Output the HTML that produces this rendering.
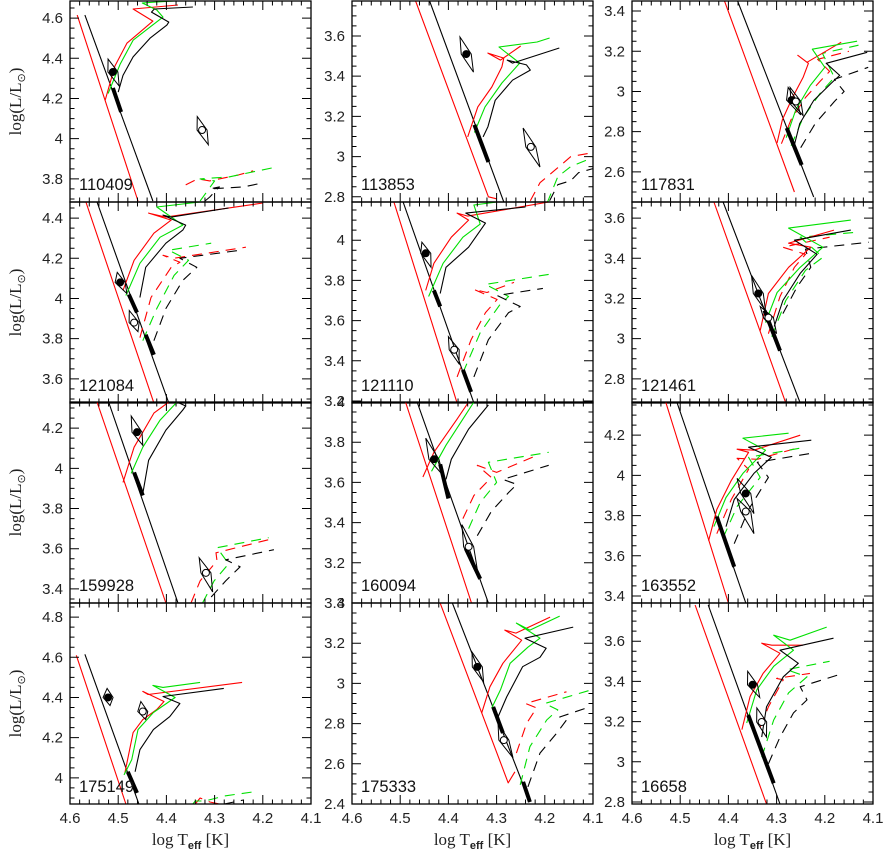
<!DOCTYPE html>
<html><head><meta charset="utf-8"><title>HR diagrams</title>
<style>
html,body{margin:0;padding:0;background:#fff;}
svg{display:block;font-family:"Liberation Sans",sans-serif;}
</style></head>
<body>
<svg id="chart" width="885" height="853" viewBox="0 0 885 853" xmlns="http://www.w3.org/2000/svg"></svg>
<script>
// ---- data ----
const starIds = ['110409','113853','117831','121084','121110','121461','159928','160094','163552','175149','175333','16658'];
const yMaxes = [4.685,3.774,3.45,4.48,4.19,3.68,4.33,4.0,4.365,4.87,3.4,3.79];
const xTickLabels = ['4.6','4.5','4.4','4.3','4.2','4.1'];
const xTickValues = [4.6,4.5,4.4,4.3,4.2,4.1];

const redZams = [
 [[4.585,4.615],[4.459,3.69]],
 [[4.468,3.774],[4.317,2.80],[4.30,2.79]],
 [[4.408,3.45],[4.263,2.50]],
 [[4.567,4.48],[4.426,3.48]],
 [[4.513,4.19],[4.382,3.19]],
 [[4.43,3.68],[4.281,2.68]],
 [[4.544,4.33],[4.401,3.33]],
 [[4.489,4.0],[4.352,3.0]],
 [[4.53,4.365],[4.4,3.365]],
 [[4.587,4.61],[4.484,3.87]],
 [[4.425,3.45],[4.276,2.505],[4.262,2.56]],
 [[4.469,3.78],[4.321,2.79]]
];
const blackZams = [
 [[4.569,4.615],[4.428,3.69]],
 [[4.439,3.774],[4.285,2.774]],
 [[4.381,3.45],[4.223,2.475]],
 [[4.544,4.48],[4.395,3.48]],
 [[4.494,4.19],[4.347,3.19]],
 [[4.411,3.68],[4.251,2.68]],
 [[4.52,4.33],[4.376,3.33]],
 [[4.465,4.0],[4.317,3.0]],
 [[4.507,4.365],[4.364,3.365]],
 [[4.569,4.615],[4.457,3.87]],
 [[4.40,3.45],[4.231,2.41]],
 [[4.442,3.78],[4.293,2.79]]
];
const redTrack = [
 [[4.527,4.192],[4.507,4.36],[4.482,4.475],[4.455,4.53],[4.428,4.585],[4.469,4.645],[4.376,4.665]],
 [[4.36,3.098],[4.339,3.247],[4.31,3.346],[4.289,3.446],[4.285,3.49],[4.318,3.515],[4.292,3.48],[4.25,3.55]],
 [[4.299,2.744],[4.288,2.86],[4.266,2.975],[4.245,3.07],[4.234,3.14],[4.256,3.18],[4.237,3.145],[4.166,3.245]],
 [[4.49,4.04],[4.467,4.19],[4.426,4.325],[4.39,4.39],[4.437,4.425],[4.401,4.405],[4.2,4.475]],
 [[4.447,3.75],[4.43,3.885],[4.394,4.015],[4.358,4.1],[4.382,4.135],[4.36,4.12],[4.192,4.19]],
 [[4.334,3.04],[4.317,3.225],[4.275,3.355],[4.229,3.455],[4.275,3.475],[4.181,3.54]],
 [[4.49,3.93],[4.467,4.105],[4.426,4.275],[4.395,4.33]],
 [[4.453,3.627],[4.43,3.75],[4.382,3.915],[4.358,4.0]],
 [[4.441,3.675],[4.424,3.83],[4.394,3.975],[4.358,4.115],[4.382,4.13],[4.347,4.125],[4.251,4.2]],
 [[4.486,4.025],[4.469,4.225],[4.449,4.29],[4.42,4.34],[4.405,4.38],[4.449,4.43],[4.438,4.415],[4.243,4.475]],
 [[4.331,2.853],[4.314,2.983],[4.287,3.1],[4.248,3.215],[4.283,3.265],[4.26,3.25],[4.189,3.33]],
 [[4.372,3.16],[4.355,3.325],[4.328,3.44],[4.293,3.54],[4.331,3.59],[4.31,3.58],[4.245,3.58]]
];
const greenTrack = [
 [[4.521,4.225],[4.496,4.37],[4.469,4.49],[4.434,4.555],[4.407,4.605],[4.42,4.64],[4.45,4.675],[4.42,4.68],[4.382,4.685]],
 [[4.346,3.12],[4.324,3.247],[4.289,3.366],[4.252,3.465],[4.295,3.545],[4.216,3.57],[4.19,3.59]],
 [[4.28,2.77],[4.26,2.91],[4.23,3.03],[4.2,3.12],[4.226,3.21],[4.133,3.25]],
 [[4.484,4.015],[4.455,4.175],[4.413,4.305],[4.366,4.365],[4.42,4.455],[4.33,4.48]],
 [[4.441,3.72],[4.411,3.885],[4.37,4.015],[4.334,4.08],[4.347,4.175],[4.299,4.19]],
 [[4.323,3.08],[4.299,3.23],[4.251,3.355],[4.204,3.455],[4.275,3.55],[4.146,3.59]],
 [[4.473,3.975],[4.449,4.105],[4.413,4.24],[4.378,4.33]],
 [[4.435,3.655],[4.405,3.785],[4.37,3.915],[4.347,4.0]],
 [[4.43,3.745],[4.405,3.89],[4.37,4.01],[4.323,4.125],[4.37,4.185],[4.275,4.21]],
 [[4.488,4.015],[4.472,4.09],[4.459,4.24],[4.427,4.325],[4.382,4.4],[4.428,4.46],[4.407,4.45],[4.33,4.475]],
 [[4.31,2.878],[4.292,2.968],[4.272,3.1],[4.235,3.18],[4.21,3.225],[4.259,3.3],[4.231,3.265],[4.169,3.335]],
 [[4.362,3.193],[4.341,3.358],[4.306,3.475],[4.265,3.555],[4.306,3.63],[4.272,3.605],[4.196,3.67]]
];
const blackTrack = [
 [[4.5,4.232],[4.49,4.315],[4.469,4.407],[4.434,4.5],[4.399,4.565],[4.395,4.58],[4.431,4.63],[4.425,4.645],[4.345,4.655]],
 [[4.328,3.098],[4.318,3.148],[4.303,3.28],[4.267,3.38],[4.23,3.43],[4.238,3.456],[4.278,3.48],[4.267,3.465],[4.17,3.54]],
 [[4.263,2.734],[4.252,2.84],[4.223,2.955],[4.187,3.04],[4.169,3.08],[4.197,3.14],[4.112,3.195]],
 [[4.455,4.005],[4.443,4.155],[4.401,4.275],[4.366,4.34],[4.36,4.365],[4.407,4.415],[4.39,4.405],[4.271,4.45]],
 [[4.417,3.735],[4.405,3.865],[4.358,3.965],[4.323,4.085],[4.364,4.135],[4.24,4.165]],
 [[4.305,3.06],[4.287,3.19],[4.251,3.325],[4.216,3.42],[4.263,3.49],[4.146,3.54]],
 [[4.449,3.875],[4.437,4.04],[4.401,4.19],[4.366,4.29],[4.36,4.31],[4.378,4.33]],
 [[4.405,3.615],[4.394,3.715],[4.358,3.865],[4.317,3.985]],
 [[4.405,3.745],[4.388,3.88],[4.347,4.01],[4.311,4.09],[4.358,4.14],[4.228,4.175]],
 [[4.465,4.03],[4.455,4.14],[4.427,4.24],[4.393,4.305],[4.372,4.37],[4.407,4.405],[4.281,4.445]],
 [[4.297,2.833],[4.279,2.933],[4.246,3.083],[4.21,3.13],[4.197,3.175],[4.241,3.225],[4.141,3.28]],
 [[4.331,3.123],[4.321,3.273],[4.286,3.423],[4.255,3.49],[4.293,3.555],[4.182,3.615]]
];
const redDash = [
 [[4.36,3.77],[4.335,3.80],[4.31,3.79],[4.25,3.82],[4.22,3.84]],
 [[4.23,2.78],[4.21,2.87],[4.18,2.93],[4.146,3.0],[4.1,3.02]],
 [[4.29,2.74],[4.27,2.86],[4.24,2.97],[4.21,3.05],[4.19,3.10],[4.215,3.16],[4.15,3.2]],
 [[4.455,3.805],[4.432,4.005],[4.39,4.155],[4.372,4.18],[4.407,4.215],[4.385,4.2],[4.235,4.255]],
 [[4.382,3.32],[4.353,3.505],[4.323,3.64],[4.299,3.705],[4.347,3.755],[4.32,3.74],[4.264,3.79]],
 [[4.317,3.025],[4.293,3.21],[4.263,3.355],[4.24,3.42],[4.287,3.455],[4.19,3.505]],
 [[4.349,3.33],[4.33,3.44],[4.295,3.54],[4.297,3.58],[4.188,3.645]],
 [[4.37,3.42],[4.347,3.535],[4.311,3.625],[4.34,3.685],[4.3,3.65],[4.216,3.735]],
 [[4.424,3.71],[4.394,3.88],[4.358,4.03],[4.382,4.085],[4.34,4.08],[4.251,4.14]],
 [[4.34,3.87],[4.33,3.90],[4.31,3.88],[4.29,3.87]],
 [[4.259,2.653],[4.238,2.8],[4.217,2.878],[4.24,2.9],[4.155,2.958]],
 [[4.334,3.173],[4.317,3.273],[4.286,3.408],[4.3,3.415],[4.231,3.44]]
];
const greenDash = [
 [[4.33,3.69],[4.315,3.74],[4.30,3.79],[4.33,3.80],[4.27,3.81],[4.17,3.86]],
 [[4.195,2.77],[4.173,2.9],[4.146,2.95],[4.096,3.0]],
 [[4.27,2.73],[4.245,2.87],[4.21,2.99],[4.18,3.07],[4.205,3.19],[4.13,3.23]],
 [[4.449,3.79],[4.42,3.95],[4.384,4.115],[4.354,4.19],[4.395,4.24],[4.307,4.275]],
 [[4.37,3.34],[4.334,3.54],[4.293,3.68],[4.275,3.72],[4.323,3.78],[4.192,3.83]],
 [[4.31,3.01],[4.281,3.19],[4.24,3.34],[4.204,3.405],[4.251,3.505],[4.133,3.53]],
 [[4.325,3.33],[4.301,3.44],[4.271,3.525],[4.295,3.605],[4.188,3.655]],
 [[4.358,3.37],[4.334,3.5],[4.3,3.6],[4.317,3.7],[4.192,3.75]],
 [[4.411,3.69],[4.382,3.845],[4.334,3.99],[4.358,4.09],[4.24,4.14]],
 [[4.345,3.87],[4.34,3.885],[4.32,3.885],[4.28,3.91],[4.22,3.93]],
 [[4.251,2.495],[4.231,2.685],[4.196,2.818],[4.173,2.868],[4.2,2.9],[4.103,2.968]],
 [[4.331,3.023],[4.306,3.208],[4.275,3.343],[4.237,3.423],[4.279,3.458],[4.19,3.5]]
];
const blackDash = [
 [[4.32,3.69],[4.31,3.71],[4.29,3.76],[4.31,3.75],[4.24,3.76],[4.20,3.78]],
 [[4.19,2.78],[4.173,2.86],[4.146,2.88],[4.13,2.92],[4.1,2.94]],
 [[4.25,2.72],[4.22,2.84],[4.18,2.95],[4.16,3.0],[4.18,3.06],[4.11,3.12]],
 [[4.426,3.79],[4.401,3.95],[4.366,4.09],[4.337,4.155],[4.372,4.2],[4.246,4.24]],
 [[4.347,3.32],[4.317,3.505],[4.275,3.64],[4.251,3.67],[4.299,3.725],[4.204,3.76]],
 [[4.287,3.125],[4.258,3.255],[4.229,3.355],[4.24,3.445],[4.109,3.48]],
 [[4.307,3.36],[4.277,3.44],[4.247,3.51],[4.277,3.545],[4.177,3.595]],
 [[4.34,3.335],[4.311,3.455],[4.275,3.55],[4.258,3.59],[4.287,3.615],[4.192,3.685]],
 [[4.388,3.66],[4.358,3.83],[4.317,3.99],[4.34,4.065],[4.228,4.11]],
 [[4.28,3.87],[4.26,3.88],[4.24,3.89]],
 [[4.235,2.485],[4.21,2.653],[4.175,2.753],[4.155,2.818],[4.169,2.833],[4.113,2.878]],
 [[4.317,2.99],[4.293,3.123],[4.265,3.243],[4.237,3.308],[4.251,3.373],[4.162,3.44]]
];
const thickSegs = [
 [[[4.511,4.252],[4.494,4.133]]],
 [[[4.346,3.158],[4.317,2.973]]],
 [[[4.279,2.818],[4.248,2.634]]],
 [[[4.478,4.02],[4.461,3.93]],[[4.443,3.82],[4.426,3.72]]],
 [[[4.43,3.75],[4.417,3.67]],[[4.37,3.355],[4.353,3.245]]],
 [[[4.325,3.14],[4.293,2.94]]],
 [[[4.467,3.98],[4.449,3.865]]],
 [[[4.417,3.69],[4.4,3.52]],[[4.364,3.27],[4.334,3.12]]],
 [[[4.424,3.795],[4.388,3.545]]],
 [[[4.48,4.03],[4.461,3.925]]],
 [[[4.307,2.883],[4.287,2.753]],[[4.245,2.51],[4.231,2.41]]],
 [[[4.359,3.233],[4.306,2.893]]]
];
// [teff, logL, topTeff, topLogL, bottomTeff, bottomLogL]
const filledStars = [
 [4.511,4.332,4.521,4.396,4.498,4.262],
 [4.363,3.51,4.376,3.595,4.348,3.42],
 [4.269,2.957,4.276,3.02,4.25,2.883],
 [4.496,4.08,4.502,4.13,4.482,4.025],
 [4.447,3.935,4.455,3.99,4.436,3.865],
 [4.338,3.225,4.352,3.315,4.323,3.14],
 [4.461,4.18,4.473,4.26,4.449,4.115],
 [4.43,3.715,4.447,3.82,4.411,3.635],
 [4.364,3.91,4.382,3.985,4.347,3.81],
 [4.521,4.40,4.523,4.445,4.517,4.36],
 [4.34,3.082,4.351,3.156,4.327,3.007],
 [4.35,3.383,4.36,3.45,4.335,3.32]
];
const openStars = [
 [4.326,4.043,4.336,4.11,4.313,3.97],
 [4.229,3.048,4.245,3.142,4.21,2.948],
 [4.26,2.95,4.272,3.02,4.245,2.88],
 [4.467,3.88,4.477,3.94,4.459,3.835],
 [4.388,3.455,4.4,3.52,4.378,3.385],
 [4.317,3.105,4.334,3.16,4.3,3.025],
 [4.318,3.48,4.332,3.555,4.304,3.385],
 [4.358,3.28,4.372,3.39,4.337,3.12],
 [4.364,3.82,4.382,3.885,4.347,3.71],
 [4.449,4.33,4.453,4.38,4.443,4.29],
 [4.285,2.718,4.297,2.8,4.266,2.63],
 [4.331,3.198,4.341,3.268,4.321,3.123]
];

// ---- layout ----
const NS = 'http://www.w3.org/2000/svg';
const svg = document.getElementById('chart');
const colL = [70, 352, 632], rowT = [1, 202, 402, 603], PW = 241, PH = 201, XMAX = 4.6, XSPAN = 0.5, YSPAN = 1.0;
function mk(tag, attrs, parent) {
  const e = document.createElementNS(NS, tag);
  for (const k in attrs) e.setAttribute(k, attrs[k]);
  (parent || svg).appendChild(e);
  return e;
}
function fmt(v) { return (Math.round(v * 10) / 10).toString(); }

starIds.forEach((id, p) => {
  const c = p % 3, r = Math.floor(p / 3);
  const L = colL[c], T = rowT[r], ymax = yMaxes[p], ymin = ymax - YSPAN;
  const sx = t => L + (XMAX - t) / XSPAN * PW;
  const sy = l => T + (ymax - l) / YSPAN * PH;
  const pts = arr => arr.map(q => sx(q[0]).toFixed(1) + ',' + sy(q[1]).toFixed(1)).join(' ');

  const g = mk('g', {});
  
  

  const cp = mk('clipPath', { id: 'cp' + p }, g);
  mk('rect', { x: L, y: T, width: PW, height: PH }, cp);
  const plot = mk('g', { 'clip-path': 'url(#cp' + p + ')' }, g);

  const line = (arr, color, w, dash, name) => {
    const e = mk('polyline', { points: pts(arr), fill: 'none', stroke: color, 'stroke-width': w, 'stroke-linejoin': 'round' }, plot);
    if (dash) e.setAttribute('stroke-dasharray', dash);
    
    
  };
  line(redZams[p], '#ff0000', 1.1, null, 'red-zams-line');
  line(blackZams[p], '#000', 1.1, null, 'black-zams-line');
  line(redDash[p], '#ff0000', 1.1, '10,7', 'red-dashed-track');
  line(greenDash[p], '#00e000', 1.1, '10,7', 'green-dashed-track');
  line(blackDash[p], '#000', 1.1, '10,7', 'black-dashed-track');
  line(redTrack[p], '#ff0000', 1.1, null, 'red-track');
  line(greenTrack[p], '#00e000', 1.1, null, 'green-track');
  line(blackTrack[p], '#000', 1.1, null, 'black-track');
  thickSegs[p].forEach(s => line(s, '#000', 4, null, 'thick-segment'));

  const star = (s, filled, name) => {
    const cx = sx(s[0]), cy = sy(s[1]);
    const d = mk('polygon', { points: [sx(s[2]) + ',' + sy(s[3]), (cx + 5) + ',' + cy, sx(s[4]) + ',' + sy(s[5]), (cx - 5) + ',' + cy].join(' '), fill: 'none', stroke: '#000', 'stroke-width': 1 }, plot);
    
    
    const ci = mk('circle', { cx: cx, cy: cy, r: 3.5, fill: filled ? '#000' : '#fff', stroke: '#000', 'stroke-width': 1 }, plot);
    
    
  };
  star(filledStars[p], true, 'filled-star-point');
  star(openStars[p], false, 'open-star-point');

  const fr = mk('rect', { x: L, y: T, width: PW, height: PH, fill: 'none', stroke: '#000', 'stroke-width': 1.3 }, g);
  
  

  let tk = '';
  for (let i = 0; i <= 25; i++) {
    const x = L + i * PW / 25, len = (i % 5 === 0) ? 9 : 4.5;
    tk += `M${x},${T}v${len}M${x},${T + PH}v${-len}`;
  }
  const y0 = Math.ceil(ymin / 0.05 - 1e-6);
  for (let k = y0; k * 0.05 <= ymax + 1e-6; k++) {
    const v = k * 0.05, y = sy(v), major = (k % 4 === 0), len = major ? 9 : 4.5;
    tk += `M${L},${y}h${len}M${L + PW},${y}h${-len}`;
    if (major) {
      const t = mk('text', { x: L - 7, y: y + 5, 'text-anchor': 'end', 'font-size': 15, fill: '#222' }, g);
      t.textContent = fmt(v);
      
      
    }
  }
  const tp = mk('path', { d: tk, stroke: '#000', 'stroke-width': 1, fill: 'none' }, g);
  
  

  const lab = mk('text', { x: L + 9, y: T + 189, 'font-size': 16.5, fill: '#111' }, g);
  lab.textContent = id;
  
  

  if (r === 3) {
    xTickValues.forEach((v, i) => {
      const t = mk('text', { x: sx(v), y: 823, 'text-anchor': 'middle', 'font-size': 15, fill: '#222' }, g);
      t.textContent = xTickLabels[i];
      
      
    });
    const xt = mk('text', { x: L + PW / 2, y: 845, 'text-anchor': 'middle', 'font-size': 17, fill: '#222', 'font-family': '"Liberation Serif", serif' }, g);
    xt.innerHTML = 'log T<tspan font-size="11" font-weight="bold" font-family="Liberation Sans, sans-serif" dy="4">eff</tspan><tspan dy="-4"> [K]</tspan>';
    
    
  }
  if (c === 0) {
    const cy = T + PH / 2;
    const yt = mk('text', { x: 0, y: 0, transform: `translate(21,${cy}) rotate(-90)`, 'text-anchor': 'middle', 'font-size': 17, fill: '#222', 'font-family': '"Liberation Serif", serif' }, g);
    yt.innerHTML = 'log(L/L<tspan font-size="11" dy="4">⊙</tspan><tspan dy="-4">)</tspan>';
    
    
  }
});
</script>
</body></html>
